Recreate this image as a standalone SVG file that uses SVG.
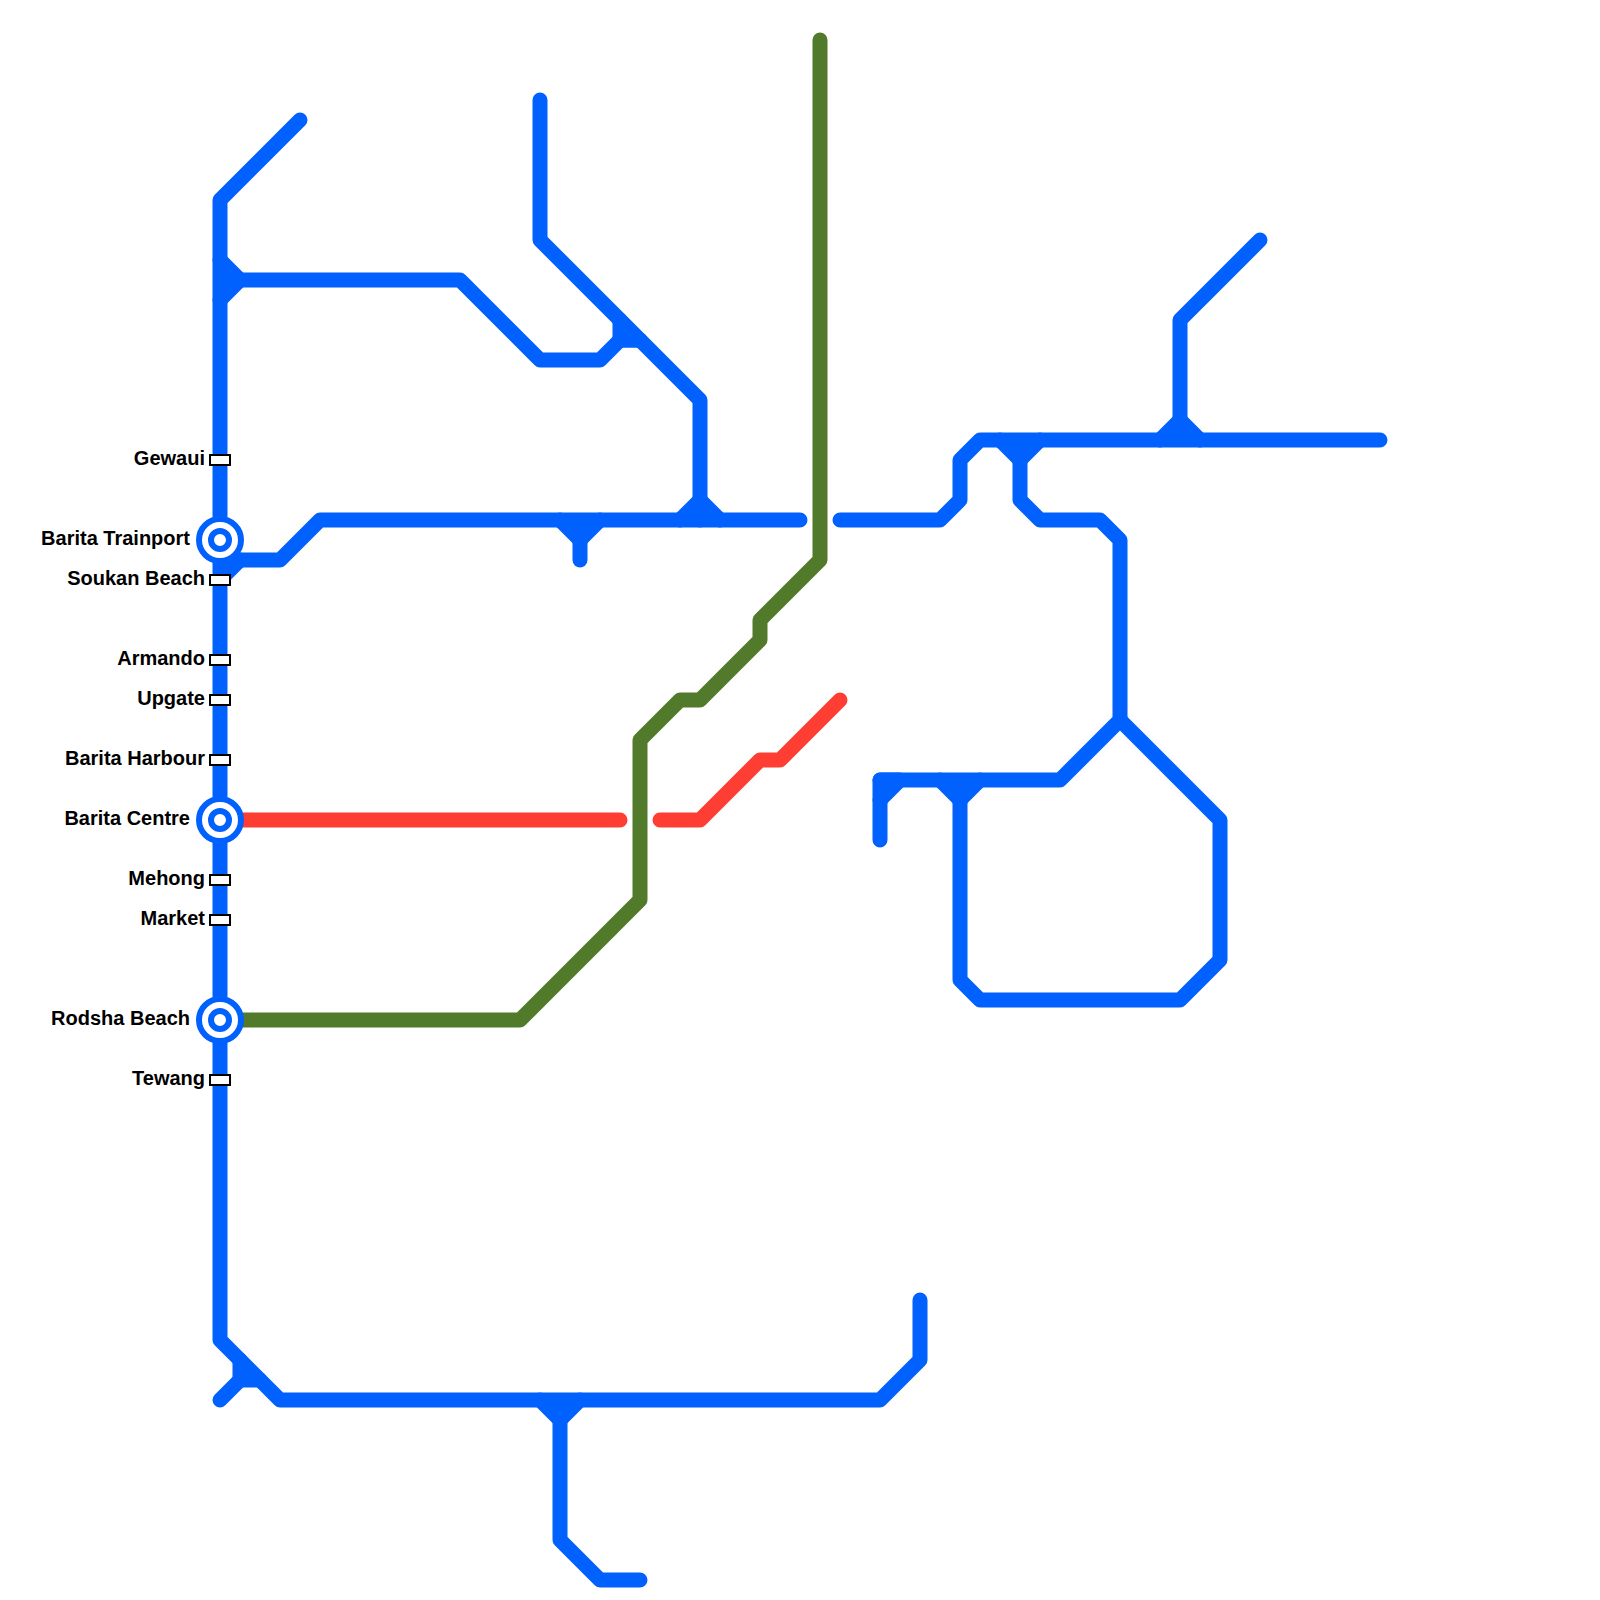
<svg xmlns="http://www.w3.org/2000/svg" width="1600" height="1600" viewBox="0 0 1600 1600">
<style>
.line{fill:none;stroke-width:15;stroke-linecap:round;stroke-linejoin:round}
.blue{stroke:#0061ff}.green{stroke:#517a2a}.red{stroke:#ff3e33}
.tri{fill:#0061ff;stroke:#0061ff;stroke-width:15;stroke-linecap:round;stroke-linejoin:round}
.stn{fill:#fff;stroke:#000;stroke-width:2}
.ring{fill:#fff;stroke:#0061ff;stroke-width:6}
text{font-family:"Liberation Sans",Arial,sans-serif;font-weight:700;font-size:20px;fill:#000;text-anchor:end}
</style>
<rect width="1600" height="1600" fill="#fff"/>
<g id="connectors">
<path class="line red" d="M220 820H620"/>
<path class="line red" d="M660 820H700L760 760H780L840 700"/>
<path class="line green" d="M220 1020H520L640 900V740L680 700H700L760 640V620L820 560V40"/>
<path class="line blue" d="M300 120L220 200V1340L280 1400H880L920 1360V1300"/>
<path class="tri" d="M220 260L240 280L220 300"/>
<path class="line blue" d="M240 280H460L540 360H600L620 340H640"/>
<path class="tri" d="M620 320V340H640"/>
<path class="tri" d="M220 580L240 560H220"/>
<path class="line blue" d="M240 560H280L320 520H800"/>
<path class="line blue" d="M540 100V240L700 400V520"/>
<path class="tri" d="M680 520L700 500L720 520"/>
<path class="tri" d="M560 520L580 540L600 520"/>
<path class="line blue" d="M580 540V560"/>
<path class="line blue" d="M840 520H940L960 500V460L980 440H1380"/>
<path class="tri" d="M1000 440L1020 460L1040 440"/>
<path class="line blue" d="M1020 460V500L1040 520H1100L1120 540V720L1060 780H880V840"/>
<path class="tri" d="M880 800L900 780H880"/>
<path class="line blue" d="M1120 720L1220 820V960L1180 1000H980L960 980V800"/>
<path class="tri" d="M940 780L960 800L980 780"/>
<path class="tri" d="M1160 440L1180 420L1200 440"/>
<path class="line blue" d="M1180 420V320L1260 240"/>
<path class="tri" d="M240 1360V1380H260"/>
<path class="line blue" d="M220 1400L240 1380"/>
<path class="tri" d="M540 1400L560 1420L580 1400"/>
<path class="line blue" d="M560 1420V1540L600 1580H640"/>
</g>
<g id="gewaui"><rect class="stn" x="210" y="455" width="20" height="10"/><text x="205" y="465">Gewaui</text></g>
<g id="barita-trainport"><circle class="ring" cx="220" cy="540" r="21"/><circle class="ring" cx="220" cy="540" r="9"/><text x="190" y="545">Barita Trainport</text></g>
<g id="soukan-beach"><rect class="stn" x="210" y="575" width="20" height="10"/><text x="205" y="585">Soukan Beach</text></g>
<g id="armando"><rect class="stn" x="210" y="655" width="20" height="10"/><text x="205" y="665">Armando</text></g>
<g id="upgate"><rect class="stn" x="210" y="695" width="20" height="10"/><text x="205" y="705">Upgate</text></g>
<g id="barita-harbour"><rect class="stn" x="210" y="755" width="20" height="10"/><text x="205" y="765">Barita Harbour</text></g>
<g id="barita-centre"><circle class="ring" cx="220" cy="820" r="21"/><circle class="ring" cx="220" cy="820" r="9"/><text x="190" y="825">Barita Centre</text></g>
<g id="mehong"><rect class="stn" x="210" y="875" width="20" height="10"/><text x="205" y="885">Mehong</text></g>
<g id="market"><rect class="stn" x="210" y="915" width="20" height="10"/><text x="205" y="925">Market</text></g>
<g id="rodsha-beach"><circle class="ring" cx="220" cy="1020" r="21"/><circle class="ring" cx="220" cy="1020" r="9"/><text x="190" y="1025">Rodsha Beach</text></g>
<g id="tewang"><rect class="stn" x="210" y="1075" width="20" height="10"/><text x="205" y="1085">Tewang</text></g>
</svg>
